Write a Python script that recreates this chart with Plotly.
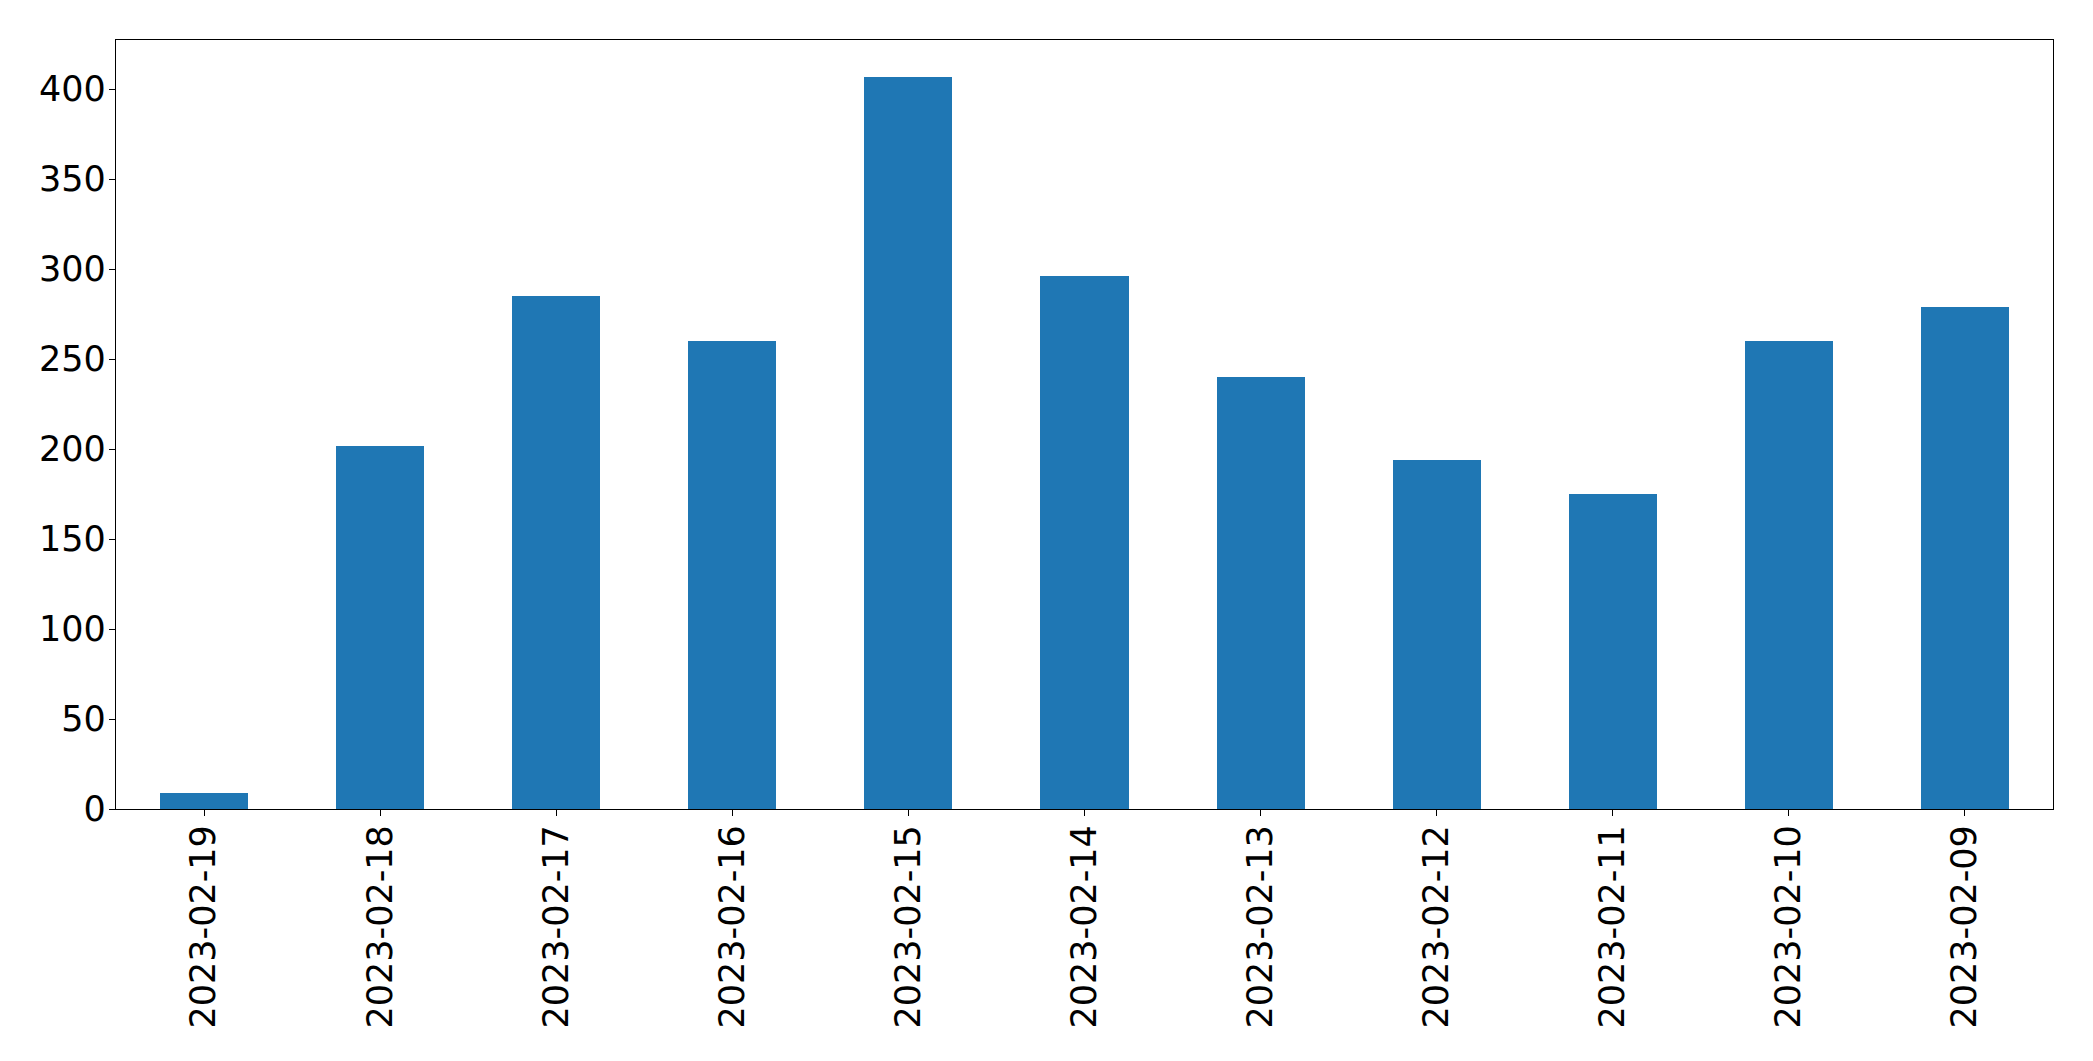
import plotly.graph_objects as go

dates = ["2023-02-19", "2023-02-18", "2023-02-17", "2023-02-16", "2023-02-15",
         "2023-02-14", "2023-02-13", "2023-02-12", "2023-02-11", "2023-02-10",
         "2023-02-09"]
counts = [9, 202, 285, 260, 407, 296, 240, 194, 175, 260, 279]
y_ticks = [0, 50, 100, 150, 200, 250, 300, 350, 400]

fig = go.Figure(go.Bar(x=dates, y=counts, width=0.5, marker=dict(color="#1f77b4", line=dict(width=0))))

fig.update_layout(
    width=2085, height=1053,
    margin=dict(l=108, r=40, t=32, b=252, pad=0),
    plot_bgcolor="white", paper_bgcolor="white",
    font=dict(family="DejaVu Sans", size=35, color="black"),
    showlegend=False, bargap=0,
)
fig.update_xaxes(
    type="category", range=[-0.5, len(dates) - 0.5], tickangle=-90,
    showline=True, mirror=True, linecolor="black", linewidth=1.3,
    ticks="outside", ticklen=6, tickwidth=1.3, tickcolor="black",
    showgrid=False, zeroline=False, ticklabelstandoff=-5,
)
fig.update_yaxes(
    range=[0, 427.35], tickvals=y_ticks,
    showline=True, mirror=True, linecolor="black", linewidth=1.3,
    ticks="outside", ticklen=6, tickwidth=1.3, tickcolor="black",
    showgrid=False, zeroline=False, ticklabelstandoff=-4,
)

fig.write_html("out.html")
